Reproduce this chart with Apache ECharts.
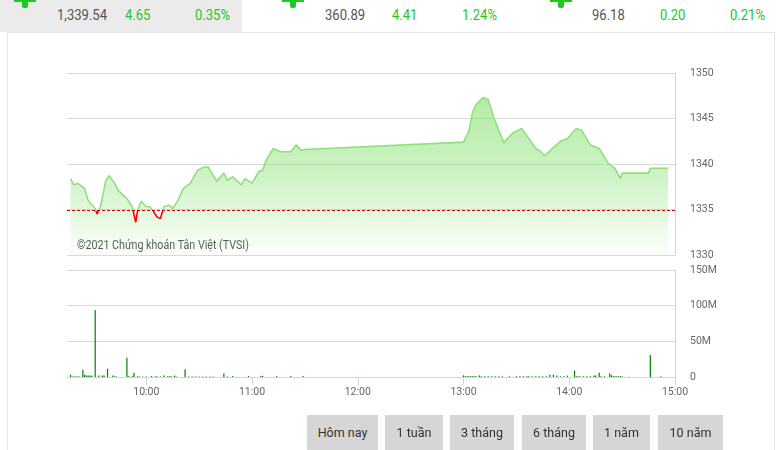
<!DOCTYPE html>
<html>
<head>
<meta charset="utf-8">
<script src="https://cdn.jsdelivr.net/npm/echarts@6/dist/echarts.min.js"></script>
<style>
  html, body { margin: 0; padding: 0; width: 781px; height: 450px; overflow: hidden; background: #fff; }
  body { position: relative; font-family: Roboto, 'Liberation Sans', sans-serif; }
  #hdrbox { position: absolute; left: 0; top: 0; width: 242px; height: 32px; background: #ebebeb; }
  #frame { position: absolute; left: 7px; top: 32px; width: 768px; height: 440px; border: 1px solid #e6e6e6; box-sizing: border-box; }
  .icon { position: absolute; top: 0; height: 8px; }
  .icon .h { position: absolute; left: 0; top: 0; width: 22px; height: 1.5px; background: #1ec81e; }
  .icon .v { position: absolute; left: 8px; top: 0; width: 6px; height: 8px; background: #1ec81e; border-radius: 0 0 2px 2px; }
  .hv { position: absolute; top: 6px; font-size: 15px; line-height: 18px; color: #555; white-space: nowrap;
        transform: scaleX(0.87); transform-origin: 0 50%; }
  .hv.g { color: #1ec81e; }
  #chart { position: absolute; left: 0; top: 0; width: 781px; height: 450px; }
  .btn { position: absolute; top: 415px; height: 36px; background: #d6d6d6; color: #333;
         font-family: Roboto, 'Liberation Sans', sans-serif; font-size: 12.5px; line-height: 36px; text-align: center; }
</style>
</head>
<body>
<div id="hdrbox"></div>
<div id="frame"></div>
<div id="hdr"></div>
<div id="chart"></div>
<div id="btns"></div>
<script>
// ---- Header data ----
const indexValues   = ['1,339.54', '360.89', '96.18'];
const indexChanges  = ['4.65', '4.41', '0.20'];
const indexPercents = ['0.35%', '1.24%', '0.21%'];

// ---- Range buttons ----
const rangeButtons = ['Hôm nay', '1 tuần', '3 tháng', '6 tháng', '1 năm', '10 năm'];

// ---- Price series (time, index value) ----
const priceTimes = ['9:17','9:19','9:21','9:25','9:27','9:31','9:32','9:34','9:35','9:37','9:39','9:42','9:44','9:49','9:52','9:54','9:55','9:57',
  '10:00','10:02','10:04','10:06','10:08','10:10','10:13','10:15','10:18','10:21','10:25','10:29','10:32','10:35','10:40','10:44','10:46','10:49','10:54','10:56',
  '11:00','11:04','11:06','11:08','11:12','11:16','11:22','11:25','11:28','11:30',
  '13:00','13:03','13:05','13:07','13:11','13:14','13:17','13:20','13:23','13:24','13:28','13:33','13:37','13:41','13:43','13:46','13:51','13:55','13:59',
  '14:04','14:07','14:12','14:17','14:22','14:26','14:29','14:30','14:45','14:46','14:56'];
const priceValues = [1338.4,1337.7,1337.9,1337.3,1336.0,1335.1,1334.5,1335.3,1336.2,1338.2,1338.7,1337.9,1337.1,1336.2,1335.3,1333.6,1334.8,1335.9,
  1335.3,1335.3,1334.8,1334.2,1334.0,1335.3,1335.5,1335.1,1336.0,1337.3,1337.9,1339.3,1339.6,1339.7,1338.1,1339.0,1338.2,1338.6,1337.7,1338.4,
  1337.9,1339.2,1339.3,1340.4,1341.7,1341.35,1341.35,1342.1,1341.5,1341.6,
  1342.4,1343.6,1345.6,1346.5,1347.3,1347.1,1345.2,1343.7,1342.3,1342.6,1343.4,1343.9,1342.8,1341.7,1341.5,1340.9,1341.8,1342.5,1342.8,
  1343.9,1343.7,1342.1,1341.7,1340.1,1339.5,1338.4,1339.0,1339.0,1339.54,1339.54];
const referencePrice = 1334.89;

// ---- Volume series (time, millions of shares) ----
const volTimes = ['9:17','9:18','9:19','9:20','9:21','9:22','9:24','9:25','9:26','9:27','9:28','9:29','9:31','9:33','9:35','9:36','9:38','9:41','9:42','9:43',
  '9:49','9:50','9:52','9:53','9:55','9:56','9:58','10:00','10:03','10:05','10:06','10:08','10:10','10:12','10:13','10:14','10:16','10:17','10:22',
  '10:24','10:26','10:28','10:30','10:32','10:34','10:36','10:38','10:44','10:46','10:49','10:58','11:05','11:06','11:14','11:22','11:29',
  '13:00','13:01','13:02','13:03','13:04','13:05','13:06','13:07','13:09','13:10','13:12','13:14','13:16','13:18','13:20','13:22','13:26','13:30',
  '13:32','13:34','13:36','13:37','13:39','13:41','13:43','13:45','13:47','13:49','13:51','13:53','13:55','13:57','13:59','14:03','14:04','14:05',
  '14:06','14:08','14:10','14:12','14:14','14:15','14:17','14:18','14:20','14:23','14:24','14:25','14:26','14:27','14:28','14:29','14:30','14:34','14:46','14:52'];
const volValues = [3,0.8,0.8,0.8,0.8,0.8,10,3,2,2,2,2,94,2,2,2,11.6,2,0.8,0.8,
  27,1,1,6,1,0.8,0.8,0.8,1.5,0.8,1,0.8,2,1,1,1,2,0.8,11,
  0.8,0.8,0.8,0.8,0.8,0.8,0.8,0.8,5,0.8,1.5,1.5,1.5,1.5,1.5,1.5,1.5,
  2.3,1,1,1,1,1,1,1,2,1,1,1,1,1,1,1,1,1,
  1,1,1,1,1,1,1,1,1,3,3,2,1,1,2,9,1,1,
  1,1,1,1,2,2,6,1,1,5,2.5,1,1,1,1,1,1,0.5,31,1];

// ---- Axis ticks ----
const timeTicks = ['10:00','11:00','12:00','13:00','14:00','15:00'];
const priceTicks = [1330, 1335, 1340, 1345, 1350];
const volTickLabels = ['0', '50M', '100M', '150M'];
const volTickValues = [0, 50, 100, 150];
const sessionStart = '9:15', sessionEnd = '15:00';
const copyrightText = '©2021 Chứng khoán Tân Việt (TVSI)';

// ---- Helpers ----
function toMin(s) { const p = s.split(':'); return +p[0] * 60 + +p[1]; }
function fmtMin(m) { const h = Math.floor(m / 60), mm = Math.round(m % 60); return (h < 10 ? '0' : '') + h + ':' + (mm < 10 ? '0' : '') + mm; }

// ---- Header build ----
const hdr = document.getElementById('hdr');
const iconX = [14, 282, 550];
const valX = [57, 325, 592], chgX = [125, 392, 660], pctX = [195, 462, 730];
indexValues.forEach((v, i) => {
  hdr.insertAdjacentHTML('beforeend',
    `<div class="icon" style="left:${iconX[i]}px;width:22px"><div class="h"></div><div class="v"></div></div>` +
    `<div class="hv" style="left:${valX[i]}px">${v}</div>` +
    `<div class="hv g" style="left:${chgX[i]}px">${indexChanges[i]}</div>` +
    `<div class="hv g" style="left:${pctX[i]}px">${indexPercents[i]}</div>`);
});
const btnX = [307, 385, 450, 522, 593, 658], btnW = [71, 58, 64, 64, 57, 65];
const btns = document.getElementById('btns');
rangeButtons.forEach((t, i) => {
  btns.insertAdjacentHTML('beforeend', `<div class="btn" style="left:${btnX[i]}px;width:${btnW[i]}px">${t}</div>`);
});

// ---- Chart ----
const chart = echarts.init(document.getElementById('chart'));
const axisFont = "Roboto, 'Liberation Sans', sans-serif";
const priceData = priceTimes.map((t, i) => [toMin(t), priceValues[i]]);
const volData = volTimes.map((t, i) => [toMin(t), volValues[i]]);
const tickMins = timeTicks.map(toMin);
const xMin = toMin(sessionStart), xMax = toMin(sessionEnd);

chart.setOption({
  animation: false,
  backgroundColor: 'transparent',
  grid: [
    { left: 67, right: 106, top: 73, height: 182 },
    { left: 67, right: 106, top: 270, height: 107 }
  ],
  xAxis: [
    { type: 'value', gridIndex: 0, min: xMin, max: xMax,
      axisLine: { show: false }, axisTick: { show: false }, axisLabel: { show: false }, splitLine: { show: false } },
    { type: 'value', gridIndex: 1, min: xMin, max: xMax,
      axisLine: { show: true, onZero: false, lineStyle: { color: '#ccd6eb', width: 1 } },
      axisTick: { show: true, length: 8, lineStyle: { color: '#ccd6eb' }, customValues: tickMins },
      axisLabel: { show: true, customValues: tickMins, formatter: v => fmtMin(v), color: '#666',
                   fontFamily: axisFont, fontSize: 10.5, margin: 10 },
      splitLine: { show: false } }
  ],
  yAxis: [
    { type: 'value', gridIndex: 0, position: 'right', min: priceTicks[0], max: priceTicks[priceTicks.length - 1], interval: 5,
      axisLine: { show: true, lineStyle: { color: '#ccd6eb' } }, axisTick: { show: false },
      axisLabel: { color: '#666', fontFamily: axisFont, fontSize: 10.5, margin: 15, align: 'left',
                   formatter: v => String(v) },
      splitLine: { show: true, lineStyle: { color: '#d9d9d9', width: 1 } } },
    { type: 'value', gridIndex: 1, position: 'right', min: 0, max: 150, interval: 50,
      axisLine: { show: true, lineStyle: { color: '#ccd6eb' } }, axisTick: { show: false },
      axisLabel: { color: '#666', fontFamily: axisFont, fontSize: 10.5, margin: 15, align: 'left',
                   formatter: v => volTickLabels[volTickValues.indexOf(v)] },
      splitLine: { show: true, lineStyle: { color: '#d9d9d9', width: 1 } } }
  ],
  visualMap: {
    show: false, type: 'piecewise', seriesIndex: 0, dimension: 1,
    pieces: [
      { lt: referencePrice, color: '#ff0000' },
      { gte: referencePrice, lt: 2000, color: '#8fe07d' },
      { gte: 2000, color: '#8fe07d' }
    ]
  },
  graphic: [
    { type: 'text', left: 77, top: 240, scaleX: 0.89, originX: 0,
      style: { text: copyrightText, fill: '#555', font: "12px Roboto, 'Liberation Sans', sans-serif" } }
  ],
  series: [
    { type: 'line', xAxisIndex: 0, yAxisIndex: 0, data: priceData, showSymbol: false, symbol: 'none', smooth: false,
      lineStyle: { width: 1.6 },
      areaStyle: { color: new echarts.graphic.LinearGradient(0, 0, 0, 1, [
        { offset: 0, color: 'rgba(140,226,118,0.95)' },
        { offset: 0.5, color: 'rgba(140,226,118,0.6)' },
        { offset: 1, color: 'rgba(140,226,118,0.04)' } ]) },
      markLine: { silent: true, symbol: ['none', 'none'], label: { show: false },
        lineStyle: { color: '#cc0000', type: [3, 2], width: 1 },
        data: [ { yAxis: referencePrice } ] },
      z: 3 },
    { type: 'bar', xAxisIndex: 1, yAxisIndex: 1, data: volData, barWidth: 1.2,
      itemStyle: { color: '#008000' } }
  ]
});
</script>
</body>
</html>
